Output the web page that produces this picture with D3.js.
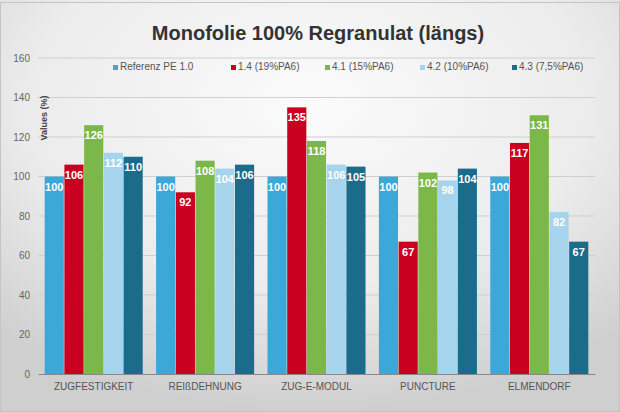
<!DOCTYPE html>
<html>
<head>
<meta charset="utf-8">
<script src="https://cdn.jsdelivr.net/npm/d3@7"></script>
<style>
  body { margin: 0; background: #fff; }
  svg { display: block; font-family: "Liberation Sans", Arial, sans-serif; }
</style>
</head>
<body>
<svg width="620" height="412"></svg>
<script>
// data
var categories = ["ZUGFESTIGKEIT", "REIßDEHNUNG", "ZUG-E-MODUL", "PUNCTURE", "ELMENDORF"];
var seriesNames = ["Referenz PE 1.0", "1.4 (19%PA6)", "4.1 (15%PA6)", "4.2 (10%PA6)", "4.3 (7,5%PA6)"];
var refValues = [100, 100, 100, 100, 100];
var s14Values = [106, 92, 135, 67, 117];
var s41Values = [126, 108, 118, 102, 131];
var s42Values = [112, 104, 106, 98, 82];
var s43Values = [110, 106, 105, 104, 67];
var yTicks = [0, 20, 40, 60, 80, 100, 120, 140, 160];

var seriesValues = [refValues, s14Values, s41Values, s42Values, s43Values];
var colors = ["#3ca7d9", "#c9001f", "#7cb74a", "#a5d4ec", "#1b6b8b"];

var svg = d3.select("svg");
var W = 620, H = 412;
var margin = {left: 38, right: 25, top: 58, bottom: 38};

// background gradient (slide look)
var defs = svg.append("defs");
var rg = defs.append("radialGradient")
    .attr("id", "bg")
    .attr("cx", "50%").attr("cy", "25%").attr("r", "75%");
rg.append("stop").attr("offset", "0%").attr("stop-color", "#fbfbfb");
rg.append("stop").attr("offset", "60%").attr("stop-color", "#ececec");
rg.append("stop").attr("offset", "100%").attr("stop-color", "#cfcfcf");

svg.append("rect")
    .attr("width", W).attr("height", H)
    .attr("fill", "url(#bg)");
svg.append("rect")
    .attr("x", 0.5).attr("y", 2.5).attr("width", W - 1).attr("height", H - 3)
    .attr("fill", "none").attr("stroke", "#c4c4c4");

var x0 = d3.scaleBand()
    .domain(categories)
    .range([margin.left, W - margin.right])
    .paddingInner(0.12)
    .paddingOuter(0.06);

var x1 = d3.scaleBand()
    .domain(d3.range(seriesNames.length))
    .range([0, x0.bandwidth()])
    .paddingInner(0.03);

var y = d3.scaleLinear()
    .domain([0, 160])
    .range([H - margin.bottom, margin.top]);

// gridlines
svg.append("g")
  .selectAll("line")
  .data(yTicks.slice(1))
  .enter().append("line")
    .attr("x1", margin.left)
    .attr("x2", W - margin.right)
    .attr("y1", function(d) { return y(d); })
    .attr("y2", function(d) { return y(d); })
    .attr("stroke", "#cfcfcf")
    .attr("stroke-width", 1);

// y tick labels
var yAxis = svg.append("g")
    .attr("transform", "translate(" + (margin.left - 8) + ",0)")
    .call(d3.axisLeft(y).tickValues(yTicks).tickSize(0).tickPadding(0));
yAxis.select(".domain").remove();
yAxis.selectAll("text")
    .attr("fill", "#666")
    .attr("font-size", 10)
    .attr("font-family", "Liberation Sans, Arial, sans-serif");

// bars
var groups = svg.append("g")
  .selectAll("g")
  .data(categories)
  .enter().append("g")
    .attr("transform", function(d) { return "translate(" + x0(d) + ",0)"; });

var cells = groups.selectAll("g")
  .data(function(d, ci) {
      return seriesValues.map(function(vals, si) { return {s: si, v: vals[ci]}; });
  })
  .enter().append("g");

cells.append("rect")
    .attr("x", function(d) { return x1(d.s); })
    .attr("width", x1.bandwidth())
    .attr("y", function(d) { return y(d.v); })
    .attr("height", function(d) { return y(0) - y(d.v); })
    .attr("fill", function(d) { return colors[d.s]; });

cells.append("text")
    .attr("x", function(d) { return x1(d.s) + x1.bandwidth() / 2; })
    .attr("y", function(d) { return y(d.v) + 14; })
    .attr("text-anchor", "middle")
    .attr("fill", "#fff")
    .attr("font-size", 11)
    .attr("font-weight", "bold")
    .text(function(d) { return d.v; });

// x axis
var xAxis = svg.append("g")
    .attr("transform", "translate(0," + y(0) + ")")
    .call(d3.axisBottom(x0).tickSize(0).tickPadding(9));
xAxis.select(".domain")
    .attr("stroke", "#888")
    .attr("stroke-width", 1.2);
xAxis.selectAll("text")
    .attr("fill", "#555")
    .attr("font-size", 10)
    .attr("font-family", "Liberation Sans, Arial, sans-serif");

// y axis title
svg.append("text")
    .attr("transform", "translate(47,118) rotate(-90)")
    .attr("text-anchor", "middle")
    .attr("fill", "#444")
    .attr("font-size", 9)
    .attr("font-weight", "bold")
    .text("Values (%)");

// title
svg.append("text")
    .attr("x", 318)
    .attr("y", 40)
    .attr("text-anchor", "middle")
    .attr("fill", "#333")
    .attr("font-size", 20)
    .attr("font-weight", "bold")
    .text("Monofolie 100% Regranulat (längs)");

// legend
var legendX = [113, 231, 325, 420, 512];
var legend = svg.append("g")
  .selectAll("g")
  .data(seriesNames)
  .enter().append("g")
    .attr("transform", function(d, i) { return "translate(" + legendX[i] + ",70)"; });
legend.append("rect")
    .attr("y", -5).attr("width", 5).attr("height", 5)
    .attr("fill", function(d, i) { return colors[i]; });
legend.append("text")
    .attr("x", 7)
    .attr("y", 0)
    .attr("fill", "#555")
    .attr("font-size", 10)
    .text(function(d) { return d; });
</script>
</body>
</html>
